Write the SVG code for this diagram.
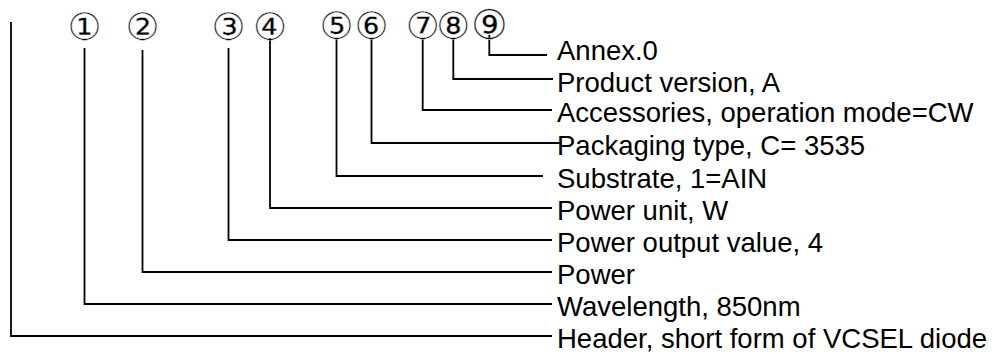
<svg xmlns="http://www.w3.org/2000/svg" width="1000" height="354" viewBox="0 0 1000 354">
<style>
.lbl{font-family:"Liberation Sans",Arial,sans-serif;font-size:27.5px;fill:#000}
.num{font-family:"DejaVu Sans",sans-serif;font-size:38px;fill:#000;stroke:#fff;stroke-width:0.45px;text-anchor:middle}
.ln{fill:none;stroke:#000;stroke-width:1.8}
</style>
<rect width="1000" height="354" fill="#fff"/>
<g id="connectors">
<polyline class="ln" points="11,22 11,336 552,336"/>
<polyline class="ln" points="84.5,48 84.5,304 552,304"/>
<polyline class="ln" points="142.5,50 142.5,272 552,272"/>
<polyline class="ln" points="228.5,48 228.5,240 552,240"/>
<polyline class="ln" points="270,38 270,208 552,208"/>
<polyline class="ln" points="336.5,38 336.5,176 543,176"/>
<polyline class="ln" points="371.5,38 371.5,143 561,143"/>
<polyline class="ln" points="422.7,38 422.7,110 552,110"/>
<polyline class="ln" points="453.3,38 453.3,79 553,79"/>
<polyline class="ln" points="489.3,35 489.3,55 547,55"/>
</g>
<g id="n1"><text class="num" x="84.5" y="39.5">①</text><text class="lbl" x="557" y="316">Wavelength, 850nm</text></g>
<g id="n2"><text class="num" x="142.5" y="39.5">②</text><text class="lbl" x="557" y="284">Power</text></g>
<g id="n3"><text class="num" x="228.5" y="39.5">③</text><text class="lbl" x="557" y="252">Power output value, 4</text></g>
<g id="n4"><text class="num" x="270" y="39.5">④</text><text class="lbl" x="557" y="220">Power unit, W</text></g>
<g id="n5"><text class="num" x="336.5" y="39">⑤</text><text class="lbl" x="557" y="188">Substrate, 1=AIN</text></g>
<g id="n6"><text class="num" x="371.5" y="39">⑥</text><text class="lbl" x="557" y="155">Packaging type, C= 3535</text></g>
<g id="n7"><text class="num" x="422.7" y="39">⑦</text><text class="lbl" x="557" y="122">Accessories, operation mode=CW</text></g>
<g id="n8"><text class="num" x="453.3" y="39">⑧</text><text class="lbl" x="557" y="91.5">Product version, A</text></g>
<g id="n9"><text class="num" x="489.3" y="38.5" style="font-size:41px">⑨</text><text class="lbl" x="557" y="59.5">Annex.0</text></g>
<g id="n0"><text class="lbl" x="557" y="348">Header, short form of VCSEL diode</text></g>
</svg>
